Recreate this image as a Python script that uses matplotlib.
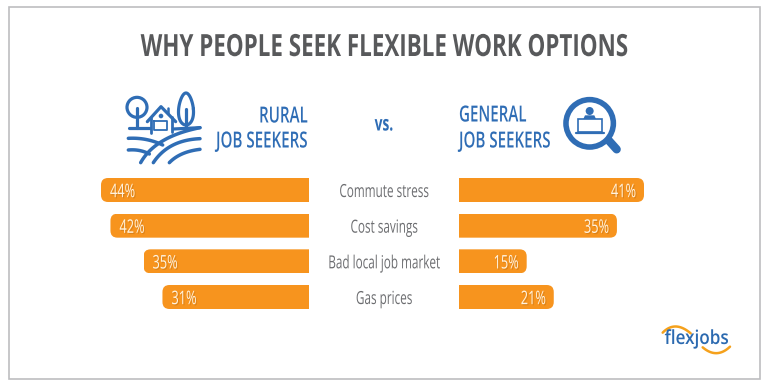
import matplotlib
matplotlib.use("Agg")
import matplotlib.pyplot as plt
import matplotlib.patheffects as pe
from matplotlib.colors import to_rgb
import numpy as np
from matplotlib.patches import FancyBboxPatch, Rectangle, Circle, Polygon
from matplotlib.transforms import IdentityTransform, Affine2D

categories = ["Commute stress", "Cost savings", "Bad local job market", "Gas prices"]
rural = [44, 42, 35, 31]
general = [41, 35, 15, 21]

FONT = "Open Sans"
BLUE = "#2F6DB5"
ORANGE = "#F7941E"
W, H = 768, 384
fig = plt.figure(figsize=(W / 100, H / 100), dpi=100, facecolor="white")


class Squeeze(pe.AbstractPathEffect):
    """Narrow a text horizontally about a display x, to imitate a condensed face."""
    def __init__(self, sx, x0, dx=0, dy=0, color=None, alpha=None):
        super().__init__()
        self.sx, self.x0, self.dx, self.dy = sx, x0, dx, dy
        self.color = to_rgb(color) if color is not None else None
        self.alpha = alpha

    def draw_path(self, renderer, gc, tpath, affine, rgbFace=None):
        a = affine + Affine2D().translate(-self.x0, 0).scale(self.sx, 1).translate(self.x0 + self.dx, self.dy)
        g = renderer.new_gc()
        g.copy_properties(gc)
        if self.alpha is not None:
            g.set_alpha(self.alpha)
        face = self.color if self.color is not None else rgbFace
        if self.alpha is not None:
            face = (*face[:3], self.alpha)
        renderer.draw_path(g, tpath, a, face)
        g.restore()


def axes_px(x0, y0, x1, y1):
    return fig.add_axes([x0 / W, 1 - y1 / H, (x1 - x0) / W, (y1 - y0) / H])


bg = axes_px(0, 0, W, H)
bg.set_xlim(0, W); bg.set_ylim(H, 0); bg.axis("off")
bg.add_patch(Rectangle((8.5, 6.5), 751, 372, fc="white", ec="#BDBEC0", lw=1.2))

step = 107 / 3
top, bottom = 190 - step / 2, 297 + step / 2
axL = axes_px(101, top, 309, bottom)
axR = axes_px(459, top, 644, bottom)
for ax, vals, lim in ((axL, rural, (44, 0)), (axR, general, (0, 41))):
    ax.set_xlim(*lim); ax.set_ylim(3.5, -0.5); ax.axis("off"); ax.patch.set_alpha(0)
    bars = ax.barh(range(4), vals, height=24 / step, color=ORANGE)
    for b in bars:
        bb = b.get_window_extent()
        x0 = bb.x0 if ax is axL else bb.x0 - 30
        b.set_clip_path(FancyBboxPatch((x0, bb.y0), bb.width + 30, bb.height,
                                       boxstyle="round,pad=0,rounding_size=7",
                                       transform=IdentityTransform()))


def pct(ax, x, y, s, ha):
    px = ax.transData.transform((x, y))[0]
    ax.text(x, y, s, ha=ha, va="center", family=FONT, color="#FFF3E0", fontsize=13.5,
            path_effects=[Squeeze(.68, px, 1.2, -1.2, "#A9630F", .35), Squeeze(.68, px)])


for i, v in enumerate(rural):
    pct(axL, v - 9 / (208 / 44), i + .06, f"{v}%", "left")
for i, v in enumerate(general):
    pct(axR, v - 8 / (185 / 41), i + .06, f"{v}%", "right")


def label(x, y, s, sx, **kw):
    bg.text(x, y, s, va="center", family=FONT, path_effects=[Squeeze(sx, x)], **kw)


for i, c in enumerate(categories):
    label(384, 192 + i * step, c, .65, ha="center", fontsize=13, color="#6D6E71")

label(384, 48, "WHY PEOPLE SEEK FLEXIBLE WORK OPTIONS", .733, ha="center",
      fontweight="bold", fontsize=22, color="#58595B")
label(384, 125, "vs.", .66, ha="center", fontweight="bold", fontsize=15, color=BLUE)
hd = dict(fontweight="semibold", fontsize=16, color=BLUE)
label(308, 117, "RURAL", .68, ha="right", **hd)
label(308, 142, "JOB SEEKERS", .68, ha="right", **hd)
label(459, 116, "GENERAL", .68, ha="left", **hd)
label(459, 142, "JOB SEEKERS", .68, ha="left", **hd)


def z1(x, y):
    return 90 + x / 3, 80 + y / 3


def stroke(pts, lw=2.3, color=BLUE, ox=z1, **kw):
    p = [ox(*q) for q in pts]
    bg.plot(*zip(*p), color=color, lw=lw, solid_capstyle="round", solid_joinstyle="round", **kw)


def curve(a, c, b, lw=2.5, color=BLUE, ox=z1):
    t = np.linspace(0, 1, 30)[:, None]
    a, c, b = map(np.array, (ox(*a), ox(*c), ox(*b)))
    p = (1 - t) ** 2 * a + 2 * t * (1 - t) * c + t ** 2 * b
    bg.plot(p[:, 0], p[:, 1], color=color, lw=lw, solid_capstyle="round")


# rural icon
bg.add_patch(Circle(z1(141, 82), 10, fc="none", ec=BLUE, lw=2.3))
stroke([(141, 85), (141, 145)])
t = np.linspace(0, 2 * np.pi, 80)
lx = 288 + 26 * np.cos(t) * (0.85 + 0.17 * np.sin(t))
ly = 87 + 48 * np.sin(t)
stroke(list(zip(lx, ly)))
stroke([(288, 88), (288, 145)])
stroke([(118, 145), (180, 145)]); stroke([(250, 147), (330, 143)])
stroke([(172, 125), (213, 80), (257, 125)])
stroke([(235, 85), (235, 100)], lw=1.8)
stroke([(183, 115), (183, 160)], lw=2); stroke([(247, 112), (247, 155)], lw=2)
stroke([(192, 124), (232, 124), (232, 150), (192, 150), (192, 124)], lw=1.3)
bg.add_patch(Circle(z1(213, 108), 2.3, fc=BLUE, ec="none"))
curve((115, 175), (170, 172), (218, 195))
curve((115, 210), (150, 207), (178, 222))
curve((152, 248), (195, 170), (330, 143))
curve((190, 248), (235, 180), (330, 176))
curve((238, 248), (270, 215), (330, 208))


# magnifier icon
def z2(x, y):
    return 440 + x / 3, 80 + y / 3


bg.plot(*zip(z2(505, 180), z2(530, 208)), color=BLUE, lw=6, solid_capstyle="round")
bg.add_patch(Circle(z2(449, 130), 23.7, fc="white", ec=BLUE, lw=4, zorder=3))
bg.add_patch(Circle(z2(449, 93), 4, fc=BLUE, ec="none", zorder=4))
bg.add_patch(Polygon([z2(430, 117), z2(435, 106), z2(463, 106), z2(468, 117)], fc=BLUE, ec="none", zorder=4))
bg.add_patch(Rectangle(z2(414, 117), 24.3, 13.3, fc="white", ec=BLUE, lw=1.2, zorder=4))
bg.plot(*zip(z2(407, 159), z2(492, 159)), color=BLUE, lw=1.6, zorder=4, solid_capstyle="round")


# logo
def z3(x, y):
    return 620 + x / 3, 310 + y / 3


x3, y3 = z3(231, 87)
bg.text(x3, y3, "flexjobs", ha="center", va="center", family="Open Sans", fontweight="semibold",
        fontsize=14, color="#2C6AB0", path_effects=[Squeeze(.88, x3)])
curve((128, 68), (165, 30), (212, 70), lw=1.8, color="#F5A11C", ox=z3)
curve((248, 112), (290, 148), (330, 110), lw=1.8, color="#F5A11C", ox=z3)

fig.savefig("out.png", dpi=100)
